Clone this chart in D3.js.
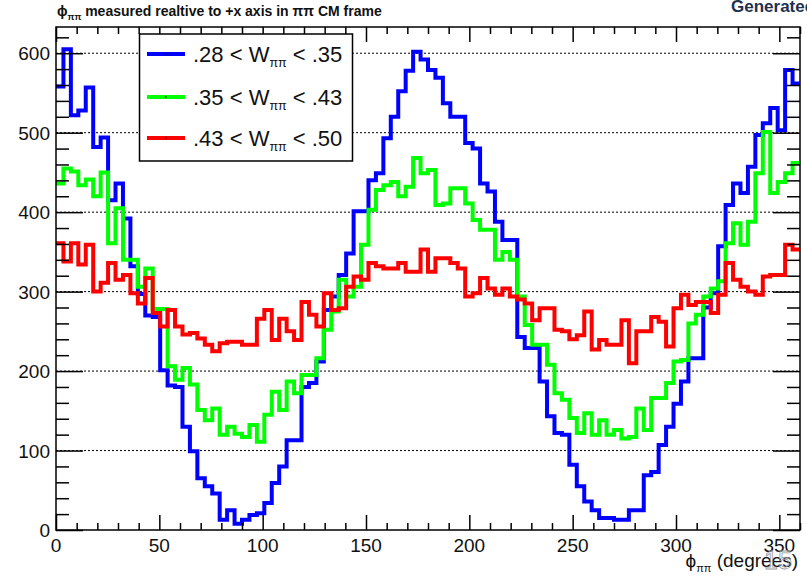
<!DOCTYPE html>
<html>
<head>
<meta charset="utf-8">
<title>phi pipi</title>
<script src="https://cdn.jsdelivr.net/npm/d3@7"></script>
<style>
  body { margin: 0; background: #fff; }
  svg text { font-family: "Liberation Sans", Arial, Helvetica, sans-serif; }
</style>
</head>
<body>
<script>
// histogram: 0..360 degrees, 100 bins of 3.6 degrees
var binWidth = 3.6;
var blue = [558,605,522,528,557,482,494,415,436,392,
  332,297,270,268,201,182,180,130,99,65,
  55,46,13,25,8,13,19,21,34,59,
  80,113,113,180,185,212,277,294,321,348,
  401,401,440,449,493,520,552,578,602,592,
  579,569,537,520,520,487,480,436,426,388,
  365,365,243,229,229,187,143,122,120,82,
  55,36,25,15,15,13,13,25,25,69,
  73,107,130,159,187,216,216,280,298,357,
  409,436,424,457,497,512,531,503,579,562];
var green = [436,455,451,434,441,420,450,361,405,340,
  340,306,329,278,278,206,189,204,183,151,
  138,153,120,130,121,117,132,111,145,174,
  151,187,172,195,195,216,252,275,315,294,
  306,359,403,428,434,438,420,432,468,449,
  453,409,411,430,430,411,390,378,378,340,
  350,340,294,258,233,233,208,172,164,141,
  122,147,120,138,120,126,115,117,153,126,
  166,166,185,212,214,260,271,294,304,313,
  361,386,359,388,449,501,424,438,449,462];
var red = [361,338,361,334,359,300,311,336,315,321,
  298,285,317,273,256,277,256,246,248,241,
  233,225,235,237,237,233,233,266,277,239,
  266,250,239,287,271,256,298,277,279,306,
  319,315,336,332,329,329,336,325,325,353,
  325,342,342,336,329,294,298,317,304,296,
  304,294,290,285,264,279,279,252,250,240,
  245,275,227,239,233,233,264,210,250,250,
  268,262,231,279,296,283,287,287,273,296,
  336,315,306,300,296,319,321,321,359,353];

var seriesNames = [".28", ".35", ".43"];
var seriesHigh = [".35", ".43", ".50"];
var colors = ["#0000ff", "#00ff00", "#ff0000"];
var xTicks = [0, 50, 100, 150, 200, 250, 300, 350];
var yTicks = [0, 100, 200, 300, 400, 500, 600];

var W = 807, H = 576;
var padL = 56, padR = 800, padT = 27, padB = 530;

var svg = d3.select("body").append("svg").attr("width", W).attr("height", H);

var x = d3.scaleLinear().domain([0, 360]).range([padL, padR]);
var y = d3.scaleLinear().domain([0, 633]).range([padB, padT]);

// dotted grid
svg.append("g").selectAll("line").data(yTicks.slice(1)).enter().append("line")
  .attr("x1", padL).attr("x2", padR)
  .attr("y1", function(d){ return y(d); }).attr("y2", function(d){ return y(d); })
  .attr("stroke", "#000").attr("stroke-width", 1).attr("stroke-dasharray", "2,2");

// histograms
var line = d3.line().x(function(d){ return x(d[0]); }).y(function(d){ return y(d[1]); })
  .curve(d3.curveStepAfter);
[blue, green, red].forEach(function(vals, k){
  var pts = vals.map(function(v, i){ return [i * binWidth, v]; });
  pts.push([360, vals[vals.length - 1]]);
  svg.append("path").datum(pts).attr("d", line)
    .attr("fill", "none").attr("stroke", colors[k]).attr("stroke-width", 4)
    .attr("stroke-linejoin", "miter").attr("stroke-linecap", "butt");
});

// axes: ticks drawn inward like ROOT
var yLeft = d3.axisRight(y).tickValues(d3.range(0, 634, 20)).tickFormat("")
  .tickSize(13).tickSizeOuter(0);
svg.append("g").attr("transform", "translate(" + padL + ",0)").call(yLeft)
  .call(function(g){ g.selectAll(".tick line").filter(function(d){ return d % 100 === 0; }).attr("x2", 27); });
var yRight = d3.axisLeft(y).tickValues(d3.range(0, 634, 20)).tickFormat("")
  .tickSize(13).tickSizeOuter(0);
svg.append("g").attr("transform", "translate(" + padR + ",0)").call(yRight)
  .call(function(g){ g.selectAll(".tick line").filter(function(d){ return d % 100 === 0; }).attr("x2", -27); });
var xBottom = d3.axisTop(x).tickValues(d3.range(0, 361, 10)).tickFormat("")
  .tickSize(7).tickSizeOuter(0);
svg.append("g").attr("transform", "translate(0," + padB + ")").call(xBottom)
  .call(function(g){ g.selectAll(".tick line").filter(function(d){ return d % 50 === 0; }).attr("y2", -15); });
var xTop = d3.axisBottom(x).tickValues(d3.range(0, 361, 10)).tickFormat("")
  .tickSize(7).tickSizeOuter(0);
svg.append("g").attr("transform", "translate(0," + padT + ")").call(xTop)
  .call(function(g){ g.selectAll(".tick line").filter(function(d){ return d % 50 === 0; }).attr("y2", 15); });
svg.selectAll(".domain").remove();
svg.selectAll(".tick line").attr("stroke", "#000").attr("stroke-width", 1.5);

// frame
svg.append("rect").attr("x", padL).attr("y", padT).attr("width", padR - padL).attr("height", padB - padT)
  .attr("fill", "none").attr("stroke", "#000").attr("stroke-width", 1.5);

// tick labels
svg.append("g").selectAll("text").data(yTicks).enter().append("text")
  .attr("x", padL - 6).attr("y", function(d){ return y(d) + 7; })
  .attr("text-anchor", "end").attr("font-size", 19).attr("fill", "#111")
  .text(function(d){ return d; });
svg.append("g").selectAll("text").data(xTicks).enter().append("text")
  .attr("x", function(d){ return x(d); }).attr("y", padB + 22)
  .attr("text-anchor", "middle").attr("font-size", 19).attr("fill", "#111")
  .text(function(d){ return d; });

// axis title
var xt = svg.append("text").attr("x", padR - 2).attr("y", 567).attr("text-anchor", "end")
  .attr("font-size", 19).attr("fill", "#111");
xt.append("tspan").text("\u03d5");
xt.append("tspan").attr("font-size", 11).attr("dy", 5).text("\u03c0\u03c0");
xt.append("tspan").attr("dy", -5).text(" (degrees)");

svg.append("text").attr("x", 764).attr("y", 569).attr("font-size", 25)
  .attr("fill", "none").attr("stroke", "#999").attr("stroke-width", 0.8).text("15");

// title
var tt = svg.append("text").attr("x", 57).attr("y", 16).attr("font-size", 14)
  .attr("font-weight", "bold").attr("fill", "#111");
tt.append("tspan").text("\u03d5");
tt.append("tspan").attr("font-size", 9).attr("dy", 4).text("\u03c0\u03c0");
tt.append("tspan").attr("dy", -4).text(" measured realtive to +x axis in \u03c0\u03c0 CM frame");

svg.append("text").attr("x", 731).attr("y", 11.5).attr("font-size", 17)
  .attr("font-weight", "bold").attr("fill", "#22304f").text("Generated");

// legend
var lg = svg.append("g");
lg.append("rect").attr("x", 139.5).attr("y", 34).attr("width", 213).attr("height", 127)
  .attr("fill", "#fff").attr("stroke", "#000").attr("stroke-width", 1.5);
var legY = [54, 97, 138];
seriesNames.forEach(function(n, k){
  lg.append("line").attr("x1", 147).attr("x2", 185).attr("y1", legY[k]).attr("y2", legY[k])
    .attr("stroke", colors[k]).attr("stroke-width", 4);
  lg.append("rect").attr("x", 165).attr("y", legY[k] - 0.7).attr("width", 1.5).attr("height", 1.5).attr("fill", "#000");
  var t = lg.append("text").attr("x", 193).attr("y", legY[k] + 8).attr("font-size", 22).attr("fill", "#111");
  t.append("tspan").text(n + " < W");
  t.append("tspan").attr("font-size", 12.5).attr("dy", 5).text("\u03c0\u03c0");
  t.append("tspan").attr("dy", -5).text(" < " + seriesHigh[k]);
});
</script>
</body>
</html>
